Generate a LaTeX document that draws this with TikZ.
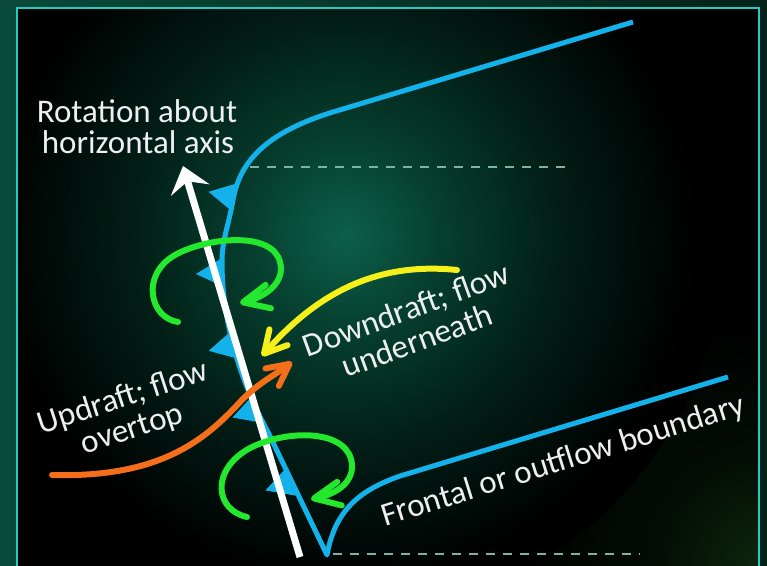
\documentclass[tikz,border=0pt]{standalone}
\usepackage{fontspec}
\setmainfont{Carlito}
\usetikzlibrary{arrows.meta}
\definecolor{outerL}{RGB}{10,74,58}
\definecolor{outerR}{RGB}{4,34,24}
\definecolor{glowA}{RGB}{12,96,74}
\definecolor{glowB}{RGB}{6,64,48}
\definecolor{glowC}{RGB}{2,30,22}
\definecolor{cornerG}{RGB}{12,40,14}
\definecolor{cornerH}{RGB}{4,14,5}
\definecolor{framec}{RGB}{40,200,195}
\definecolor{frontblue}{RGB}{20,178,235}
\definecolor{dashc}{RGB}{125,178,168}
\definecolor{spingreen}{RGB}{35,232,45}
\definecolor{downyellow}{RGB}{245,240,25}
\definecolor{uporange}{RGB}{245,110,25}
\definecolor{labelwhite}{RGB}{238,240,240}
\pgfdeclareradialshading{glow}{\pgfpoint{0bp}{0bp}}{color(0bp)=(glowA); color(6bp)=(glowB); color(14bp)=(glowC); color(23bp)=(black); color(50bp)=(black)}
\pgfdeclareradialshading{cornerglow}{\pgfpoint{0bp}{0bp}}{color(0bp)=(cornerG); color(10bp)=(cornerH); color(24bp)=(black); color(50bp)=(black)}
\begin{document}
\begin{tikzpicture}[x=1pt,y=-1pt,
  front/.style={draw=frontblue, line width=5pt, line join=round},
  tri/.style={fill=frontblue},
  guide/.style={draw=dashc, line width=2pt, dash pattern=on 9pt off 8pt},
  axisarrow/.style={draw=white, line width=7pt, -{Stealth[length=25pt,width=40pt,inset=9pt]}},
  spin/.style={draw=spingreen, line width=6pt, line cap=round, -{Straight Barb[length=26pt,width=24pt,round]}},
  downflow/.style={draw=downyellow, line width=6pt, line cap=round, -{Straight Barb[length=22pt,width=24pt,round]}},
  upflow/.style={draw=uporange, line width=6pt, line cap=round, -{Straight Barb[length=22pt,width=22pt,round]}},
  lbl/.style={text=labelwhite, font=\fontsize{33}{36}\selectfont, inner sep=0pt}
]
\useasboundingbox (0,0) rectangle (767,565);
% outer background
\shade[left color=outerL, right color=outerR] (0,0) rectangle (767,565);
% inner panel
\begin{scope}
  \clip (17,8) rectangle (759,570);
  \fill[black] (17,8) rectangle (759,570);
  \shade[shading=cornerglow] (767,565) circle (260);
  \shade[shading=glow] (345,235) circle (380);
\end{scope}
\draw[framec, line width=2.5pt] (17,575) -- (17,8) -- (759,8) -- (759,575);

% guide dashed lines
\coordinate (g1a) at (250,167); \coordinate (g1b) at (565,167);
\coordinate (g2a) at (333,554); \coordinate (g2b) at (640,554);
\draw[guide] (g1a) -- (g1b);
\draw[guide] (g2a) -- (g2b);

% front
\draw[front] (633,22) -- (333,112) .. controls (268,132) and (240,160) .. (233,200)
  .. controls (228,228) and (222,240) .. (222,262)
  .. controls (222,330) and (245,390) .. (268,432) -- (327,555)
  .. controls (335,510) and (360,490) .. (400,476) -- (728,377);
% front triangles
\fill[tri] (231.2,210.7) -- (237.2,183.3) -- (208.6,191.8) -- cycle;
\fill[tri] (222,258) -- (222,286) -- (196,274) -- cycle;
\fill[tri] (230.8,331.4) -- (237.6,358.6) -- (208.7,350.8) -- cycle;
\fill[tri] (251.2,397.1) -- (262.8,422.9) -- (232.5,417.5) -- cycle;
\fill[tri] (284.0,470.3) -- (296.0,495.7) -- (265.4,490.4) -- cycle;

% axis arrow
\coordinate (wa0) at (300,557); \coordinate (wa1) at (183,166);
\draw[axisarrow] (wa0) -- (wa1);

% rotation arrows
\draw[spin] (178,322) .. controls (150,318) and (140,275) .. (175,255)
  .. controls (205,238) and (272,230) .. (280,262)
  .. controls (286,284) and (262,298) .. (240,303);
\draw[spin] (247,517) .. controls (215,510) and (210,470) .. (250,448)
  .. controls (290,428) and (350,430) .. (352,465)
  .. controls (353,485) and (332,495) .. (311,499);

% flows
\draw[downflow] (457,270) .. controls (380,262) and (320,290) .. (262,356);
\draw[upflow] (52,475) .. controls (160,478) and (205,440) .. (240,402)
  .. controls (258,383) and (275,375) .. (292,362);

% labels
\node[lbl, anchor=base] (rot1) at (137,122) {Rotation about};
\node[lbl, anchor=base] (rot2) at (138,153) {horizontal axis};
\node[lbl, anchor=base, rotate=20] (dn1) at (410,320) {Downdraft; flow};
\node[lbl, anchor=base, rotate=20] (dn2) at (421,351) {underneath};
\node[lbl, anchor=base, rotate=18] (up1) at (126,407) {Updraft; flow};
\node[lbl, anchor=base, rotate=18] (up2) at (135,438) {overtop};
\node[lbl, anchor=base, rotate=17.3] (fr) at (566,470) {Frontal or outflow boundary};
\end{tikzpicture}
\end{document}
